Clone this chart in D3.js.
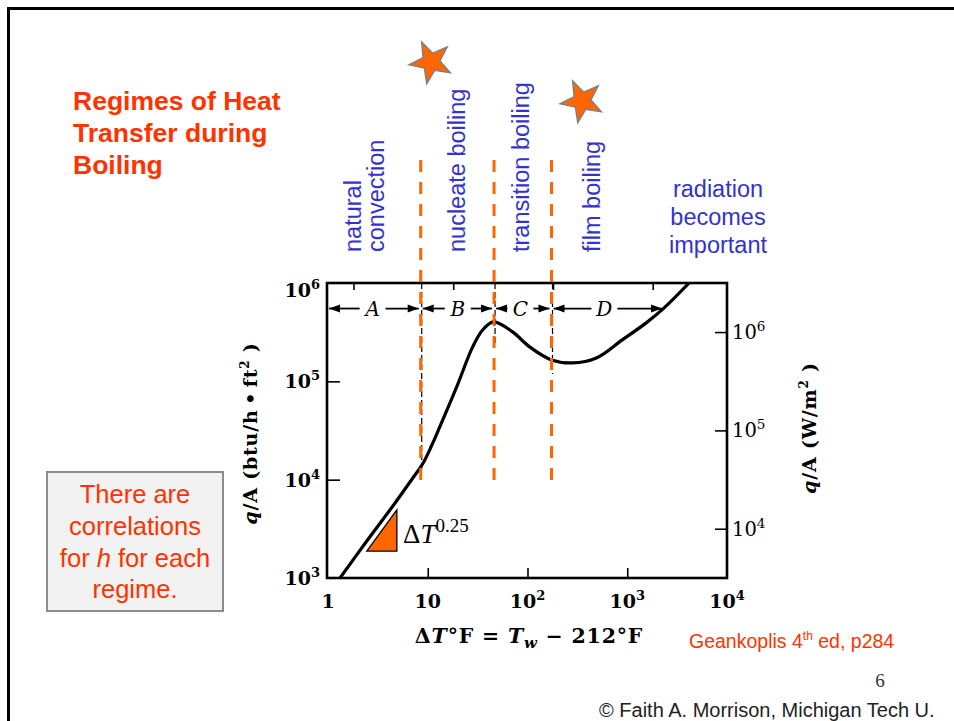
<!DOCTYPE html>
<html>
<head>
<meta charset="utf-8">
<script src="https://cdn.jsdelivr.net/npm/d3@7"></script>
<style>
  html, body { margin: 0; padding: 0; background: #fff; }
  svg { display: block; }
</style>
</head>
<body>
<script>
// ---------------- DATA ----------------
// Boiling curve: ΔT (°F) vs q/A (btu/h·ft²)
const deltaT = [1.32, 2.45, 4.47, 7.08, 8.91, 11.0, 13.2, 19.5, 28.2, 35.5, 45.7, 70.8, 105, 174, 282, 490, 891, 1549, 2344, 4169];
const fluxQA = [1000, 2380, 5400, 10400, 14500, 22500, 34400, 87700, 224000, 333000, 402000, 318000, 224000, 165000, 154000, 173000, 264000, 393000, 558000, 1000000];

// regime boundaries (ΔT °F) and regime letters
const boundaries = [8.5, 46.2, 174];
const regimeLetters = ["A", "B", "C", "D"];
const regimeSpans = [[1, 8.5], [8.5, 46.2], [46.2, 174], [174, 2340]];
const regimeLabelAt = [2.8, 20, 85, 590];

// axis ticks
const xTickValues = [1, 10, 100, 1000, 10000];
const xTickLabels = ["1", "10", "10^2", "10^3", "10^4"];
const yTickValues = [1e3, 1e4, 1e5, 1e6];
const yTickLabels = ["10^3", "10^4", "10^5", "10^6"];
const ySITickValues = [1e4, 1e5, 1e6];
const ySITickLabels = ["10^4", "10^5", "10^6"];
const topTickValuesF = [1.8, 18, 180, 1800]; // ΔT of 1, 10, 100, 1000 °C
const btuToW = 3.1546;

// slope triangle (ΔT, q/A)
const slopeTri = [[2.45, 1880], [4.9, 1880], [4.9, 4930]];

// regime names
const regimeNames = [["natural", "convection"], ["nucleate boiling"], ["transition boiling"], ["film boiling"]];

// ---------------- LAYOUT ----------------
const W = 954, H = 721;
const plot = { left: 327, right: 727, top: 283, bottom: 578 };
const ORANGE = "#FF6600", RED = "#FF3300", BLUE = "#3333CC";
const SERIF = "'Liberation Serif', 'Times New Roman', serif";
const CENT = "'DejaVu Serif', serif";
const SANS = "'Liberation Sans', Arial, sans-serif";

const svg = d3.select("body").append("svg").attr("width", W).attr("height", H);

// slide frame
svg.append("rect").attr("x", 8.5).attr("y", 8.5).attr("width", W + 20).attr("height", H + 20)
  .attr("fill", "none").attr("stroke", "#000").attr("stroke-width", 3);

const x = d3.scaleLog().domain([1, 1e4]).range([plot.left + 1, plot.right]);
const y = d3.scaleLog().domain([1e3, 1e6]).range([plot.bottom, plot.top]);
const ySI = d3.scaleLog().domain([1e3 * btuToW, 1e6 * btuToW]).range([plot.bottom, plot.top]);

function addSup(sel, label, supSize, dy) {
  const parts = label.split("^");
  sel.append("tspan").text(parts[0]);
  if (parts[1]) sel.append("tspan").attr("font-size", supSize).attr("dy", dy).text(parts[1]);
}

// ---------------- TITLE & NOTES ----------------
const title = svg.append("text").attr("font-family", SANS).attr("font-weight", "bold")
  .attr("font-size", 26.5).attr("fill", RED);
["Regimes of Heat", "Transfer during", "Boiling"].forEach((t, i) =>
  title.append("tspan").attr("x", 73).attr("y", 110 + i * 32).text(t));

// stars
function starPath(cx, cy, R, r, rotDeg) {
  const pts = d3.range(10).map(i => {
    const a = (-90 + rotDeg + i * 36) * Math.PI / 180;
    const rad = i % 2 === 0 ? R : r;
    return [cx + rad * Math.cos(a), cy + rad * Math.sin(a)];
  });
  return d3.line()(pts) + "Z";
}
[[431, 62], [582, 101]].forEach(([cx, cy]) =>
  svg.append("path").attr("d", starPath(cx, cy, 22, 9, -25))
    .attr("fill", ORANGE).attr("stroke", "#808080").attr("stroke-width", 1.5));

// vertical regime names
const nameBaselines = [[361, 384], [465], [529], [600]];
regimeNames.forEach((lines, i) => {
  lines.forEach((t, j) => {
    svg.append("text").attr("transform", `translate(${nameBaselines[i][j]},252) rotate(-90)`)
      .attr("font-family", SANS).attr("font-size", 23.5).attr("fill", BLUE).text(t);
  });
});
const rad = svg.append("text").attr("font-family", SANS).attr("font-size", 23.5)
  .attr("fill", BLUE).attr("text-anchor", "middle");
["radiation", "becomes", "important"].forEach((t, i) =>
  rad.append("tspan").attr("x", 718).attr("y", 197 + i * 28).text(t));

// correlation box
svg.append("rect").attr("x", 47).attr("y", 472).attr("width", 176).attr("height", 139)
  .attr("fill", "#F2F2F2").attr("stroke", "#8C8C8C").attr("stroke-width", 2);
const box = svg.append("text").attr("font-family", SANS).attr("font-size", 25.5)
  .attr("fill", RED).attr("text-anchor", "middle");
box.append("tspan").attr("x", 135).attr("y", 503).text("There are");
box.append("tspan").attr("x", 135).attr("y", 535).text("correlations");
const l3 = box.append("tspan").attr("x", 135).attr("y", 567);
l3.append("tspan").text("for ");
l3.append("tspan").attr("font-style", "italic").text("h");
l3.append("tspan").text(" for each");
box.append("tspan").attr("x", 135).attr("y", 598).text("regime.");

// source & footer
const src = svg.append("text").attr("x", 689).attr("y", 648).attr("font-family", SANS)
  .attr("font-size", 19.5).attr("fill", RED);
src.append("tspan").text("Geankoplis 4");
src.append("tspan").attr("font-size", 12).attr("dy", -8).text("th");
src.append("tspan").attr("dy", 8).text(" ed, p284");
svg.append("text").attr("x", 880).attr("y", 687).attr("text-anchor", "middle")
  .attr("font-family", SERIF).attr("font-size", 19).attr("fill", "#333").text("6");
svg.append("text").attr("x", 599).attr("y", 717).attr("font-family", SANS)
  .attr("font-size", 20).attr("fill", "#222").text("© Faith A. Morrison, Michigan Tech U.");

// ---------------- PLOT ----------------
svg.append("defs").append("clipPath").attr("id", "plotclip").append("rect")
  .attr("x", plot.left).attr("y", plot.top).attr("width", plot.right - plot.left).attr("height", plot.bottom - plot.top);

// axes (ticks only)
function styleAxis(g) {
  g.select(".domain").remove();
  g.selectAll(".tick line").attr("stroke", "#000").attr("stroke-width", 1.6);
  g.selectAll(".tick text").remove();
}
svg.append("g").attr("transform", `translate(0,${plot.bottom})`)
  .call(d3.axisTop(x).tickValues([10, 100, 1000]).tickSize(10).tickFormat("")).call(styleAxis);
svg.append("g").attr("transform", `translate(0,${plot.top})`)
  .call(d3.axisBottom(x).tickValues(topTickValuesF).tickSize(7).tickFormat("")).call(styleAxis);
svg.append("g").attr("transform", `translate(${plot.left},0)`)
  .call(d3.axisRight(y).tickValues([1e4, 1e5]).tickSize(13).tickFormat("")).call(styleAxis);
svg.append("g").attr("transform", `translate(${plot.right},0)`)
  .call(d3.axisLeft(ySI).tickValues(ySITickValues).tickSize(12).tickFormat("")).call(styleAxis);

// frame
svg.append("rect").attr("x", plot.left).attr("y", plot.top)
  .attr("width", plot.right - plot.left).attr("height", plot.bottom - plot.top)
  .attr("fill", "none").attr("stroke", "#000").attr("stroke-width", 2.6);

// tick labels
xTickValues.forEach((v, i) => {
  const t = svg.append("text").attr("x", x(v)).attr("y", 608).attr("text-anchor", "middle")
    .attr("font-family", CENT).attr("font-weight", "bold").attr("font-size", 19);
  addSup(t, xTickLabels[i], 13, -8);
});
yTickValues.forEach((v, i) => {
  const t = svg.append("text").attr("x", 320).attr("y", y(v) + 7 + (v === 1e6 ? 7 : 0)).attr("text-anchor", "end")
    .attr("font-family", CENT).attr("font-weight", "bold").attr("font-size", 19);
  addSup(t, yTickLabels[i], 13, -8);
});
ySITickValues.forEach((v, i) => {
  const t = svg.append("text").attr("x", 732).attr("y", ySI(v) + 7)
    .attr("font-family", CENT).attr("font-size", 19.5);
  addSup(t, ySITickLabels[i], 13.5, -8);
});

// axis titles
const lt = svg.append("text").attr("transform", `translate(257,${(plot.top + plot.bottom) / 2 + 3}) rotate(-90)`)
  .attr("text-anchor", "middle").attr("font-family", CENT).attr("font-weight", "bold")
  .attr("font-size", 19).attr("letter-spacing", 0.8);
lt.append("tspan").attr("font-style", "italic").text("q");
lt.append("tspan").text("/A (btu/h\u2009\u2022\u2009ft");
lt.append("tspan").attr("font-size", 12).attr("dy", -8).text("2");
lt.append("tspan").attr("dy", 8).text(" )");

const rt = svg.append("text").attr("transform", `translate(816,428) rotate(-90)`)
  .attr("text-anchor", "middle").attr("font-family", CENT).attr("font-weight", "bold")
  .attr("font-size", 19).attr("letter-spacing", 0.8);
rt.append("tspan").attr("font-style", "italic").text("q");
rt.append("tspan").text("/A (W/m");
rt.append("tspan").attr("font-size", 12).attr("dy", -8).text("2");
rt.append("tspan").attr("dy", 8).text(" )");

const xt = svg.append("text").attr("x", 529).attr("y", 643).attr("text-anchor", "middle")
  .attr("font-family", CENT).attr("font-weight", "bold").attr("font-size", 20.5).attr("letter-spacing", 0.8);
xt.append("tspan").text("\u0394");
xt.append("tspan").attr("font-style", "italic").text("T");
xt.append("tspan").text("\u00B0F = ");
xt.append("tspan").attr("font-style", "italic").text("T");
xt.append("tspan").attr("font-style", "italic").attr("font-size", 15).attr("dy", 5).text("w");
xt.append("tspan").attr("dy", -5).text(" \u2212 212\u00B0F");

// black original dashed boundary lines
const blackDashEnd = [16000, 300000, 150000];
boundaries.forEach((b, i) => {
  svg.append("line").attr("x1", x(b) + 1).attr("x2", x(b) + 1)
    .attr("y1", plot.top).attr("y2", y(blackDashEnd[i]) + 10)
    .attr("stroke", "#000").attr("stroke-width", 1.2).attr("stroke-dasharray", "6,3");
});

// regime arrows
const arrowY = y(5.5e5);
function arrowHead(tipX, dir) {
  const pts = [[tipX, arrowY], [tipX - dir * 11, arrowY - 4], [tipX - dir * 11, arrowY + 4]];
  svg.append("path").attr("d", d3.line()(pts) + "Z").attr("fill", "#000");
}
regimeSpans.forEach((s, i) => {
  const x0 = x(s[0]) + (i === 0 ? 1 : 2), x1 = x(s[1]) - 2, lx = x(regimeLabelAt[i]);
  const hw = 8, gap = 5;
  svg.append("line").attr("x1", x0).attr("x2", lx - hw - gap).attr("y1", arrowY).attr("y2", arrowY)
    .attr("stroke", "#000").attr("stroke-width", 1.8);
  svg.append("line").attr("x1", lx + hw + gap).attr("x2", x1).attr("y1", arrowY).attr("y2", arrowY)
    .attr("stroke", "#000").attr("stroke-width", 1.8);
  arrowHead(x0, -1);
  arrowHead(x1, 1);
  svg.append("text").attr("x", lx).attr("y", arrowY + 7).attr("text-anchor", "middle")
    .attr("font-family", CENT).attr("font-style", "italic").attr("font-size", 20).text(regimeLetters[i]);
});

// boiling curve
const pts = deltaT.map((d, i) => [d, fluxQA[i]]);
svg.append("path").datum(pts).attr("clip-path", "url(#plotclip)")
  .attr("d", d3.line().x(d => x(d[0])).y(d => y(d[1])).curve(d3.curveCatmullRom.alpha(0.5)))
  .attr("fill", "none").attr("stroke", "#000").attr("stroke-width", 3.2);

// slope triangle
svg.append("path").attr("d", d3.line().x(d => x(d[0])).y(d => y(d[1]))(slopeTri) + "Z")
  .attr("fill", ORANGE).attr("stroke", "#000").attr("stroke-width", 1.3);
const st = svg.append("text").attr("x", 403).attr("y", 543).attr("font-family", SERIF).attr("font-size", 27);
st.append("tspan").text("\u0394");
st.append("tspan").attr("font-style", "italic").text("T");
st.append("tspan").attr("font-size", 19).attr("dy", -11).text("0.25");

// orange dashed regime boundaries
boundaries.forEach(b => {
  svg.append("line").attr("x1", x(b)).attr("x2", x(b)).attr("y1", 160).attr("y2", 488)
    .attr("stroke", ORANGE).attr("stroke-width", 3).attr("stroke-dasharray", "12,10");
});
</script>
</body>
</html>
